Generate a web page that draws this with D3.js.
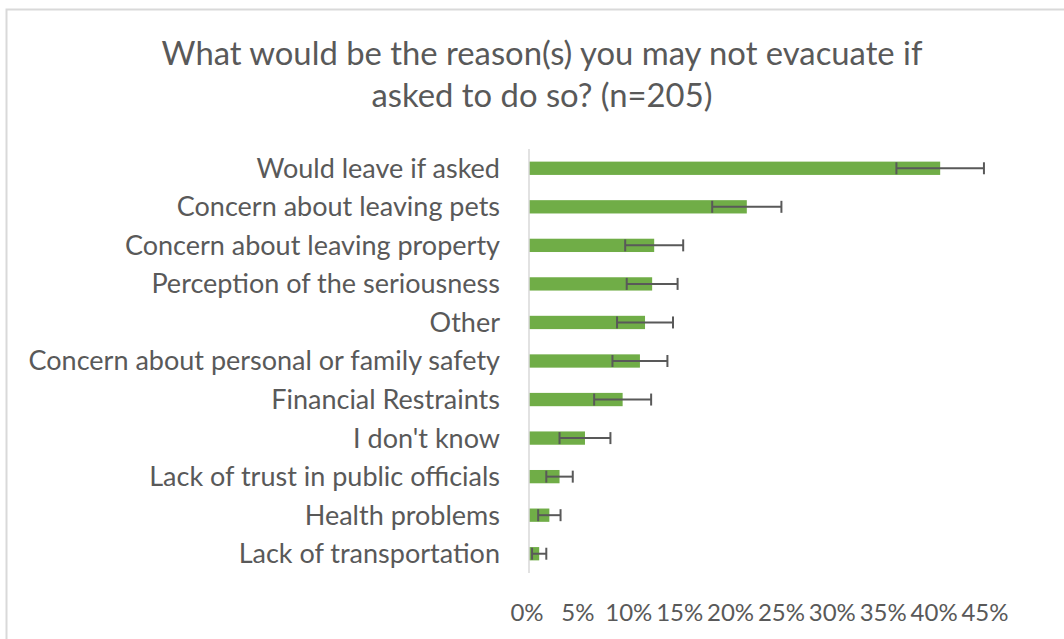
<!DOCTYPE html>
<html>
<head>
<meta charset="utf-8">
<script src="https://d3js.org/d3.v7.min.js"></script>
<style>
  body { margin: 0; background: #fff; }
  svg { display: block; }
  text { font-family: Lato, "Open Sans", sans-serif; fill: #595959; }
</style>
</head>
<body>
<div id="chart"></div>
<script>
// question title
var titleLines = ["What would be the reason(s) you may not evacuate if", "asked to do so? (n=205)"];

// answers, top to bottom
var categories = [
  "Would leave if asked",
  "Concern about leaving pets",
  "Concern about leaving property",
  "Perception of the seriousness",
  "Other",
  "Concern about personal or family safety",
  "Financial Restraints",
  "I don't know",
  "Lack of trust in public officials",
  "Health problems",
  "Lack of transportation"
];

// share of respondents (%) and error bar half-width (%)
var values = [40.4, 21.4, 12.3, 12.1, 11.4, 10.9, 9.2, 5.5, 3.0, 2.0, 1.0];
var errors = [4.3, 3.4, 2.85, 2.5, 2.75, 2.7, 2.8, 2.5, 1.3, 1.1, 0.7];

var tickValues = [0, 5, 10, 15, 20, 25, 30, 35, 40, 45];

var w = 1064, h = 639;
var svg = d3.select("#chart").append("svg")
  .attr("width", w)
  .attr("height", h);

svg.append("rect")
  .attr("width", w).attr("height", h)
  .style("fill", "white");

// chart border (runs off the right/bottom of the picture)
svg.append("rect")
  .attr("x", 6.5).attr("y", 9.5)
  .attr("width", w + 20).attr("height", h + 20)
  .style("fill", "none")
  .style("stroke", "#d9d9d9")
  .style("stroke-width", 2);

// title
svg.append("text")
  .attr("x", 542)
  .attr("y", 65)
  .attr("text-anchor", "middle")
  .attr("font-size", 32.8)
  .selectAll("tspan")
  .data(titleLines)
  .enter().append("tspan")
  .attr("x", 542)
  .attr("dy", function(d, i) { return i == 0 ? 0 : 42; })
  .text(function(d) { return d; });

var x = d3.scaleLinear().domain([0, 45]).range([529, 987]);
var y = d3.scaleBand().domain(categories).range([149, 573])
  .paddingInner(0.655).paddingOuter(0.3275);

// bars
svg.selectAll(".bar")
  .data(values)
  .enter().append("rect")
  .attr("class", "bar")
  .attr("x", x(0))
  .attr("y", function(d, i) { return y(categories[i]); })
  .attr("width", function(d) { return x(d) - x(0); })
  .attr("height", y.bandwidth())
  .style("fill", "#70ad47");

// vertical axis line
svg.append("line")
  .attr("x1", x(0)).attr("x2", x(0))
  .attr("y1", 149).attr("y2", 573)
  .style("stroke", "#d9d9d9")
  .style("stroke-width", 1.5);

// error bars
var eb = svg.selectAll(".err")
  .data(values)
  .enter().append("g")
  .attr("class", "err")
  .attr("transform", function(d, i) { return "translate(0," + (y(categories[i]) + y.bandwidth() / 2) + ")"; })
  .style("stroke", "#595959")
  .style("stroke-width", 2);

eb.append("line")
  .attr("x1", function(d, i) { return x(d - errors[i]); })
  .attr("x2", function(d, i) { return x(d + errors[i]); });
eb.append("line")
  .attr("x1", function(d, i) { return x(d - errors[i]); })
  .attr("x2", function(d, i) { return x(d - errors[i]); })
  .attr("y1", -6).attr("y2", 6);
eb.append("line")
  .attr("x1", function(d, i) { return x(d + errors[i]); })
  .attr("x2", function(d, i) { return x(d + errors[i]); })
  .attr("y1", -6).attr("y2", 6);

// category labels
svg.selectAll(".cat")
  .data(categories)
  .enter().append("text")
  .attr("class", "cat")
  .attr("x", 500)
  .attr("y", function(d) { return y(d) + y.bandwidth() / 2; })
  .attr("dy", ".35em")
  .attr("text-anchor", "end")
  .attr("font-size", 27)
  .text(function(d) { return d; });

// x tick labels
svg.selectAll(".tick")
  .data(tickValues)
  .enter().append("text")
  .attr("class", "tick")
  .attr("x", function(d) { return x(d) - 2; })
  .attr("y", 621)
  .attr("text-anchor", "middle")
  .attr("font-size", 24)
  .text(function(d) { return d + "%"; });
</script>
</body>
</html>
